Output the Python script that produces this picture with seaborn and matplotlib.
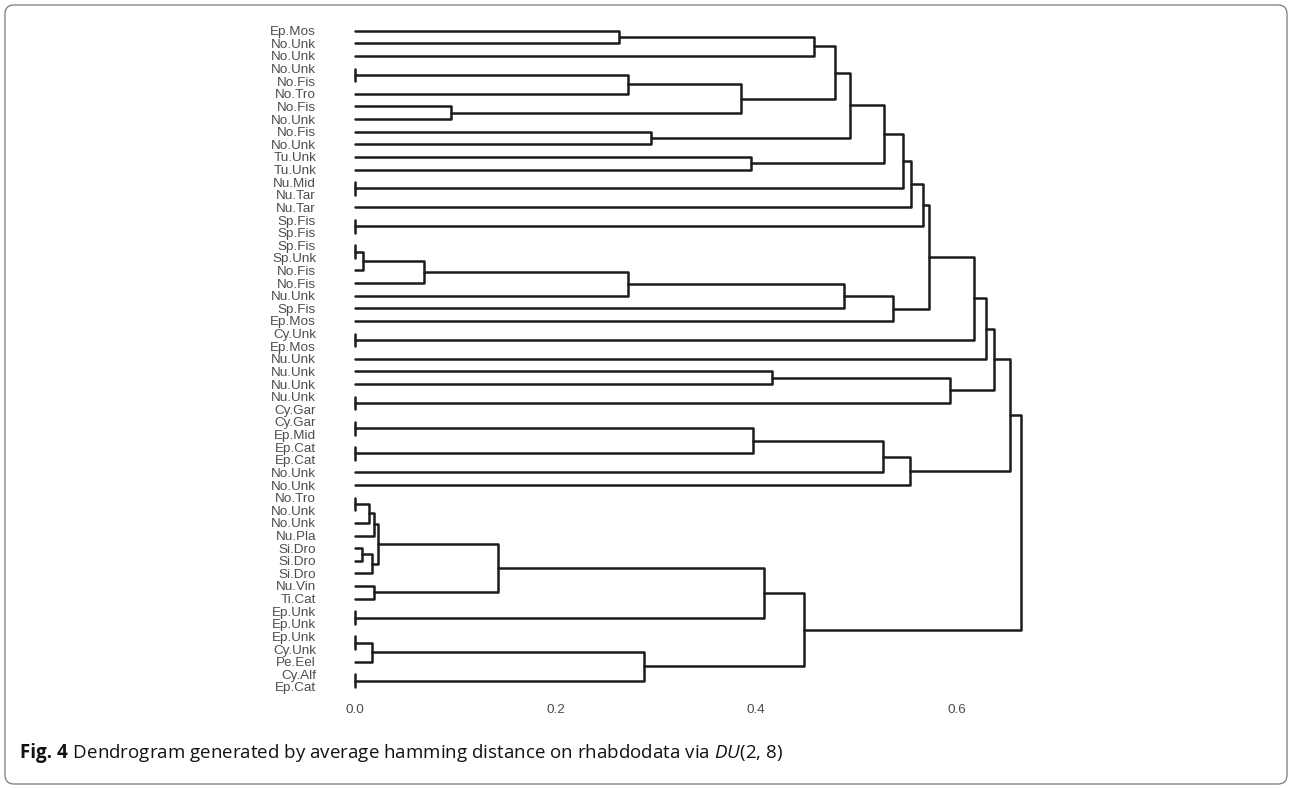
import numpy as np
import pandas as pd
import matplotlib
matplotlib.use("Agg")
import matplotlib.pyplot as plt
import matplotlib.patches as mpatches
import seaborn as sns

# ---------------- data ----------------
leaf_labels = [
    "Ep.Mos", "No.Unk", "No.Unk", "No.Unk", "No.Fis", "No.Tro", "No.Fis", "No.Unk",
    "No.Fis", "No.Unk", "Tu.Unk", "Tu.Unk", "Nu.Mid", "Nu.Tar", "Nu.Tar", "Sp.Fis",
    "Sp.Fis", "Sp.Fis", "Sp.Unk", "No.Fis", "No.Fis", "Nu.Unk", "Sp.Fis", "Ep.Mos",
    "Cy.Unk", "Ep.Mos", "Nu.Unk", "Nu.Unk", "Nu.Unk", "Nu.Unk", "Cy.Gar", "Cy.Gar",
    "Ep.Mid", "Ep.Cat", "Ep.Cat", "No.Unk", "No.Unk", "No.Tro", "No.Unk", "No.Unk",
    "Nu.Pla", "Si.Dro", "Si.Dro", "Si.Dro", "Nu.Vin", "Ti.Cat", "Ep.Unk", "Ep.Unk",
    "Ep.Unk", "Cy.Unk", "Pe.Eel", "Cy.Alf", "Ep.Cat",
]
n_leaves = len(leaf_labels)

# merge steps: (upper child, lower child, height); ids >= n_leaves are earlier merges
merge_left = [0, 53, 3, 55, 6, 56, 54, 8, 59, 10, 61, 12, 63, 65, 15, 66,
              17, 69, 70, 71, 72, 73, 68, 24, 75, 77, 27, 29, 79, 78, 31, 33,
              83, 85, 86, 82, 37, 89, 90, 41, 92, 91, 44, 94, 46, 96, 48, 99,
              51, 100, 98, 88]
merge_right = [1, 2, 4, 5, 7, 57, 58, 9, 60, 11, 62, 13, 64, 14, 16, 67,
               18, 19, 20, 21, 22, 23, 74, 25, 76, 26, 28, 30, 80, 81, 32, 34,
               84, 35, 36, 87, 38, 39, 40, 42, 43, 93, 45, 95, 47, 97, 49, 50,
               52, 101, 102, 103]
merge_height = [0.263, 0.4576, 0.0, 0.272, 0.0954, 0.385, 0.479, 0.295, 0.4935,
                0.395, 0.5277, 0.0, 0.546, 0.554, 0.0, 0.566,
                0.0, 0.0083, 0.069, 0.272, 0.4878, 0.5366, 0.5725, 0.0, 0.617,
                0.629, 0.4157, 0.0, 0.5932, 0.6374, 0.0, 0.0,
                0.3968, 0.5267, 0.5533, 0.653, 0.0, 0.0143, 0.019, 0.007,
                0.0167, 0.0233, 0.019, 0.143, 0.0, 0.4078, 0.0, 0.0173,
                0.0, 0.288, 0.4477, 0.6637]

x_ticks = [0.0, 0.2, 0.4, 0.6]
x_tick_labels = ["0.0", "0.2", "0.4", "0.6"]

caption_bold = "Fig. 4"
caption_rest = r" Dendrogram generated by average hamming distance on rhabdodata via $\it{DU}$(2, 8)"

# ---------------- build segments ----------------
pos = {i: float(i) for i in range(n_leaves)}
hgt = {i: 0.0 for i in range(n_leaves)}
rows = []
for k, (a, b, h) in enumerate(zip(merge_left, merge_right, merge_height)):
    node = n_leaves + k
    pts = [(hgt[a], pos[a]), (h, pos[a]), (h, pos[b]), (hgt[b], pos[b])]
    for j, (xx, yy) in enumerate(pts):
        rows.append({"seg": k, "order": j, "h": xx, "y": yy})
    pos[node] = (pos[a] + pos[b]) / 2.0
    hgt[node] = h
seg_df = pd.DataFrame(rows)

# ---------------- plot ----------------
sns.set_theme(style="white")
plt.rcParams["font.family"] = ["Liberation Sans", "DejaVu Sans"]
plt.rcParams["mathtext.fontset"] = "custom"
plt.rcParams["mathtext.rm"] = "Open Sans"
plt.rcParams["mathtext.it"] = "Open Sans:italic"
plt.rcParams["mathtext.bf"] = "Open Sans:bold"

W, H = 1292, 788
fig = plt.figure(figsize=(W / 100, H / 100), dpi=100)
fig.patch.set_facecolor("white")

ax_l, ax_r, ax_t, ax_b = 330, 1050, 20, 700
ax = fig.add_axes([ax_l / W, 1 - ax_b / H, (ax_r - ax_l) / W, (ax_b - ax_t) / H])

sns.lineplot(data=seg_df, x="h", y="y", units="seg", estimator=None, sort=False,
             color="#1c1c1c", linewidth=1.8, ax=ax, legend=False)

# axis scaling: h=0 at pixel 355, 1003 px per unit; leaf 0 at y=30.7, 12.62 px per leaf
x0_pix, px_per_unit = 355.0, 1003.0
ax.set_xlim((ax_l - x0_pix) / px_per_unit, (ax_r - x0_pix) / px_per_unit)
y0_pix, px_per_leaf = 30.7, 12.62
ax.set_ylim((ax_b - y0_pix) / px_per_leaf, (ax_t - y0_pix) / px_per_leaf)

ax.set_yticks(range(n_leaves))
ax.set_yticklabels(leaf_labels, fontsize=9.7, color="#4d4d4d")
ax.set_xticks(x_ticks)
ax.set_xticklabels(x_tick_labels, fontsize=9.7, color="#4d4d4d")
ax.tick_params(axis="y", length=0, pad=10)
ax.tick_params(axis="x", length=0, pad=3)
ax.set_xlabel("")
ax.set_ylabel("")
for sp in ax.spines.values():
    sp.set_visible(False)
ax.grid(False)

# caption (bold part then regular part placed right after it)
cap_y = 1 - 753 / H
t1 = fig.text(20 / W, cap_y, caption_bold, fontsize=13.5, fontweight="bold",
              ha="left", va="center", color="#111111", family="Open Sans")
renderer = fig.canvas.get_renderer()
bb = t1.get_window_extent(renderer=renderer)
fig.text(bb.x1 / W, cap_y, caption_rest, fontsize=13.5,
         ha="left", va="center", color="#111111", family="Open Sans")

# outer rounded frame
frame = mpatches.FancyBboxPatch((5, 4), W - 10, H - 9,
                                boxstyle="round,pad=0,rounding_size=9",
                                transform=None, facecolor="none",
                                edgecolor="#7a7a7a", linewidth=0.9)
fig.patches.append(frame)

fig.savefig("out.png", dpi=100, facecolor="white")
